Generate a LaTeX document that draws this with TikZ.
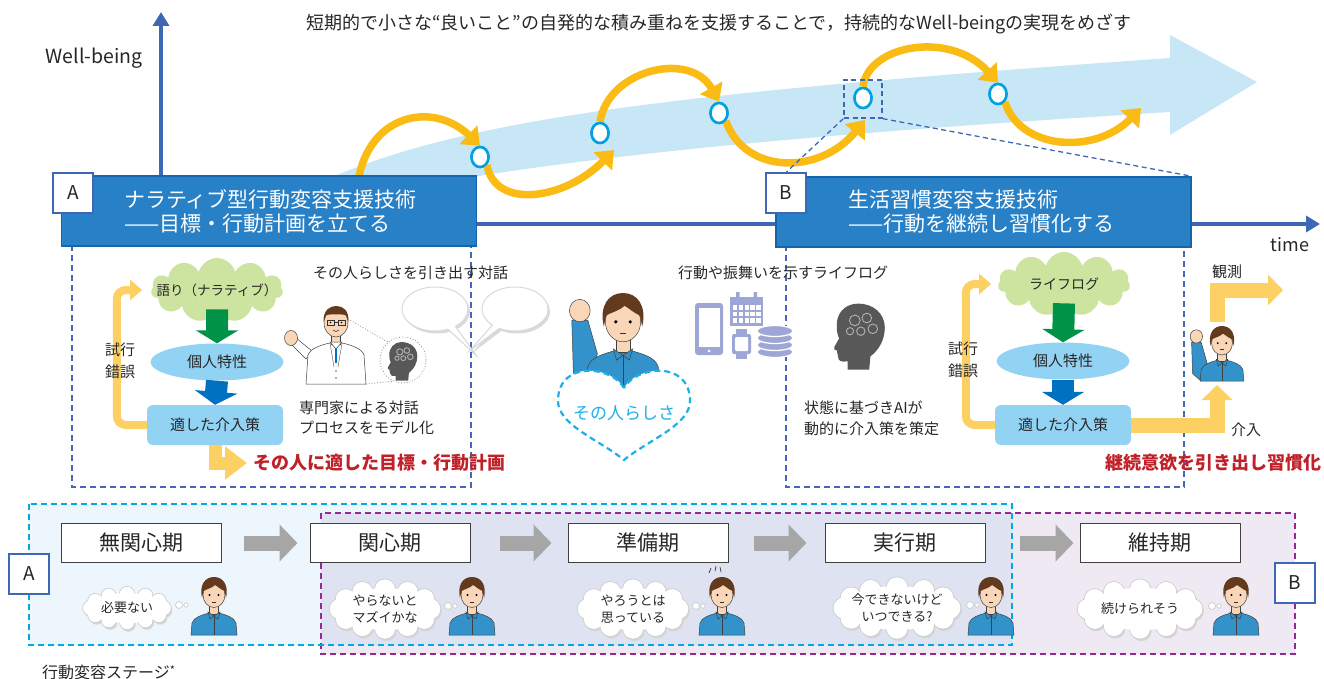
\documentclass[tikz,border=0pt]{standalone}
\usepackage{fontspec}
\setmainfont{Noto Sans CJK JP}
\usepackage{xcolor}
\usepackage{tikz}
\usetikzlibrary{arrows.meta,calc,positioning,shapes.geometric,shapes.symbols,shapes.callouts,shadows}

\definecolor{axisblue}{RGB}{63,104,180}
\definecolor{headblue}{RGB}{40,128,198}
\definecolor{headline}{RGB}{22,100,170}
\definecolor{bandblue}{RGB}{199,231,247}
\definecolor{ringblue}{RGB}{0,160,225}
\definecolor{arcgold}{RGB}{250,188,20}
\definecolor{loopgold}{RGB}{253,208,100}
\definecolor{cloudgreen}{RGB}{205,227,160}
\definecolor{downgreen}{RGB}{0,146,70}
\definecolor{paleblue}{RGB}{146,210,242}
\definecolor{downblue}{RGB}{0,112,192}
\definecolor{goalred}{RGB}{192,32,40}
\definecolor{heartcyan}{RGB}{26,176,232}
\definecolor{devicelav}{RGB}{158,166,214}
\definecolor{mindgrey}{RGB}{88,88,88}
\definecolor{panelblue}{RGB}{68,102,187}
\definecolor{stagecyan}{RGB}{0,170,228}
\definecolor{stagepurple}{RGB}{150,40,150}
\definecolor{bgA}{RGB}{237,246,252}
\definecolor{bgB}{RGB}{239,233,243}
\definecolor{bgAB}{RGB}{223,227,241}
\definecolor{stagegrey}{RGB}{166,166,166}
\definecolor{shirtblue}{RGB}{52,146,202}
\definecolor{skin}{RGB}{250,214,185}
\definecolor{hairbrown}{RGB}{100,58,30}

% bust of the young man, origin at the top of his hair
\newcommand{\drawguy}{%
  \path[fill=shirtblue, draw=black!75, line width=0.5pt]
    (-23,58) -- (-22,46) .. controls (-20,40) and (-12,38) .. (-5,36)
    -- (5,36) .. controls (12,38) and (20,40) .. (22,46) -- (23,58) -- cycle;
  \path[fill=skin, draw=black!75, line width=0.5pt] (-4.5,28) rectangle (4.5,37);
  \path[fill=shirtblue, draw=black!75, line width=0.5pt]
    (-6,35) -- (0,39) -- (-4,42) -- cycle (6,35) -- (0,39) -- (4,42) -- cycle;
  \draw[black!75, line width=0.5pt] (0,39) -- (0,58);
  \path[fill=skin, draw=black!75, line width=0.5pt] (0,18) ellipse [x radius=11, y radius=12.5];
  \path[fill=hairbrown] (-12,21) .. controls (-15,8) and (-9,0) .. (0,0)
    .. controls (9,0) and (15,8) .. (12,21) -- (10.5,14) .. controls (6,12) and (3,9) .. (1,8)
    .. controls (-2,11) and (-7,12) .. (-10.5,14) -- cycle;
  \fill[black] (-4.5,18) circle [radius=1.1] (4.5,18) circle [radius=1.1];
  \draw[black!80, line width=0.6pt] (-2,25) -- (2,25);
}

% thought cloud: centre x, centre y, half width, half height
\newcommand{\thinkcloud}[4]{%
  \pgfmathsetmacro\puffr{0.36*#4}%
  \pgfmathsetmacro\puffa{0.78*#3}%
  \pgfmathsetmacro\puffb{0.70*#4}%
  \foreach \a in {0,30,...,330}
    \fill[black!16] ({#1+1.5+\puffa*cos(\a)},{#2+2.5+\puffb*sin(\a)}) circle [radius=\puffr];
  \foreach \a in {0,30,...,330}
    \fill[black!20] ({#1+\puffa*cos(\a)},{#2+\puffb*sin(\a)}) circle [radius=\puffr+0.8];
  \foreach \a in {0,30,...,330}
    \fill[white] ({#1+\puffa*cos(\a)},{#2+\puffb*sin(\a)}) circle [radius=\puffr];
  \fill[white] (#1,#2) ellipse [x radius=0.8*#3, y radius=0.75*#4];
  \filldraw[fill=white, draw=black!20, line width=0.7pt]
    ({#1+#3+5},{#2-3}) circle [radius=3.5] ({#1+#3+12},{#2-3}) circle [radius=2.2];
}

\tikzset{
  note/.style={inner sep=0pt, text=black!85, font=\fontsize{15}{21}\selectfont},
  goal/.style={inner sep=0pt, text=goalred, font=\bfseries\fontsize{18}{20}\selectfont},
  wbaxis/.style={draw=axisblue, line width=3.5pt, -{Triangle[length=14pt,width=16pt]}},
  hdr/.style={draw=headline, line width=1.5pt, fill=headblue, minimum width=415pt, minimum height=70pt},
  hdrtext/.style={inner sep=0pt, text=white, align=left, font=\fontsize{21}{24}\selectfont},
  tagbox/.style={draw=axisblue, line width=1.2pt, fill=white, minimum size=40pt, inner sep=0pt, text=black!85, font=\fontsize{19}{19}\selectfont},
  panel/.style={draw=panelblue, line width=1.3pt, dash pattern=on 6pt off 4pt},
  zoomline/.style={draw=axisblue, line width=1.3pt, dash pattern=on 5pt off 3.5pt},
  ring/.style={ellipse, draw=ringblue, line width=2.5pt, fill=white, minimum width=17pt, minimum height=20pt, inner sep=0pt},
  hop/.style={draw=arcgold, line width=7.5pt, -{Triangle[length=16pt,width=25pt]}},
  narr/.style={cloud, cloud puffs=11, cloud ignores aspect, fill=cloudgreen, minimum width=132pt, minimum height=64pt, inner sep=0pt},
  trait/.style={ellipse, fill=paleblue, minimum width=133pt, minimum height=37pt, inner sep=0pt, text=black!85, font=\fontsize{15}{18}\selectfont},
  policy/.style={rectangle, rounded corners=6pt, fill=paleblue, minimum width=136pt, minimum height=40pt, inner sep=0pt, text=black!85, font=\fontsize{15}{18}\selectfont},
  downhop/.style={line width=22pt, -{Triangle[length=13pt,width=42pt]}},
  loopback/.style={draw=loopgold, line width=8pt, rounded corners=9pt, -{Triangle[length=12pt,width=20pt]}},
  goalarrow/.style={draw=loopgold, line width=13pt, -{Triangle[length=22pt,width=32pt]}},
  actarrow/.style={draw=loopgold, line width=15pt, -{Triangle[length=15pt,width=30pt]}},
  bubble/.style={ellipse callout, fill=white, draw=black!15, line width=1pt, minimum width=66pt, minimum height=44pt, drop shadow={opacity=0.3, shadow xshift=2pt, shadow yshift=-2.5pt}},
  stagebox/.style={draw=black!75, line width=1pt, fill=white, minimum width=160pt, minimum height=39pt, inner sep=0pt, text=black!85, font=\fontsize{21}{21}\selectfont},
  stagearrow/.style={draw=stagegrey, line width=15pt, -{Triangle[length=18pt,width=36pt]}},
  thinktext/.style={inner sep=0pt, align=center, text=black!85, font=\fontsize{13}{17}\selectfont},
  pics/guy/.style={code={\drawguy}},
  % same man with a raised fist
  pics/cheer/.style={code={
    \path[fill=shirtblue, draw=black!75, line width=0.5pt]
      (-32,17) -- (-31,50) -- (-22,58) -- (-16,38) -- (-22,17) -- cycle;
    \path[fill=skin, draw=black!75, line width=0.5pt] (-27,11) ellipse [x radius=6.5, y radius=7];
    \drawguy
  }},
  % doctor in a white coat
  pics/doctor/.style={code={
    \path[fill=white, draw=black!75, line width=0.5pt] (-30,52) -- (-46,36) -- (-40,31) -- (-24,44) -- cycle;
    \path[fill=skin, draw=black!75, line width=0.5pt] (-45,31) ellipse [x radius=6.5, y radius=7.5];
    \path[fill=white, draw=black!75, line width=0.5pt]
      (-30,77) -- (-28,48) .. controls (-26,42) and (-16,38) .. (-6,36)
      -- (6,36) .. controls (16,38) and (26,42) .. (28,48) -- (30,77) -- cycle;
    \path[fill=skin, draw=black!75, line width=0.5pt] (-4.5,27) rectangle (4.5,37);
    \path[fill=white, draw=black!75, line width=0.5pt] (-6,35) -- (0,42) -- (6,35) -- cycle;
    \draw[downblue, line width=2.5pt] (0,41) -- (0,56);
    \draw[black!60, line width=0.5pt] (-6,36) -- (-2,60) (6,36) -- (2,60);
    \fill[black!60] (0,64) circle [radius=0.9] (0,71) circle [radius=0.9];
    \path[fill=skin, draw=black!75, line width=0.5pt] (0,16) ellipse [x radius=12, y radius=14];
    \path[fill=hairbrown] (-12.5,15) .. controls (-13,3) and (-6,-1) .. (0,-1)
      .. controls (7,-1) and (13,3) .. (12.5,15) -- (10,8) .. controls (4,7) and (-4,7) .. (-10,8) -- cycle;
    \draw[black!80, line width=0.6pt] (-9,13) rectangle (-2,18) (2,13) rectangle (9,18) (-2,15) -- (2,15);
    \fill[black] (-5.5,15.5) circle [radius=0.9] (5.5,15.5) circle [radius=0.9];
    \draw[black!80, line width=0.6pt] (-3,23) .. controls (-1,25) and (1,25) .. (3,23);
    \coordinate (-ear) at (12,12);
    \coordinate (-hem) at (30,77);
  }},
  % thinking head in profile, facing left
  pics/mind/.style={code={
    \fill[mindgrey] (6,28) -- (7,17) .. controls (15,11) and (19,2) .. (19,-7)
      .. controls (19,-19) and (9,-27) .. (-3,-27)
      .. controls (-15,-27) and (-22,-18) .. (-21,-7)
      .. controls (-21,-3) and (-20,0) .. (-19,2) -- (-23,9)
      .. controls (-24,11) and (-23,12) .. (-21,12) -- (-20,17)
      .. controls (-20,21) and (-17,22) .. (-12,21) -- (-12,28) -- cycle;
    \foreach \gx/\gy/\gr in {-6/-13/4.5, 4/-15/4, 9/-6/4, -1/-4/3.5, -10/-4/3}
      \draw[black!30, line width=0.9pt] (\gx,\gy) circle [radius=\gr];
  }}
}

\begin{document}
\begin{tikzpicture}[x=1pt, y=-1pt]
  \useasboundingbox (0,0) rectangle (1324,679);

  % rising well-being band
  \fill[bandblue] (285,200) .. controls (430,120) and (650,95) .. (1170,58)
    -- (1170,35) -- (1257,82) -- (1170,135) -- (1170,112)
    .. controls (800,135) and (500,160) .. (300,212) -- cycle;

  % axes
  \coordinate (origin) at (161,224);
  \coordinate (wbTop) at (161,12);
  \coordinate (timeEnd) at (1320,224);
  \draw[wbaxis] (origin) -- (wbTop);
  \draw[wbaxis] (origin) -- (timeEnd);
  \node[note, font=\fontsize{19.5}{20}\selectfont] (wbLabel) at (94,58) {Well-being};
  \node[note, font=\fontsize{18}{20}\selectfont] (timeLabel) at (1290,245) {time};
  \node[note, font=\fontsize{18}{20}\selectfont] (motto) at (719,24)
    {短期的で小さな“良いこと”の自発的な積み重ねを支援することで，持続的なWell-beingの実現をめざす};

  % small good steps
  \node[ring] (c1) at (480,157) {};
  \node[ring] (c2) at (600,133) {};
  \node[ring] (c3) at (719,113) {};
  \node[ring] (c4) at (863,98) {};
  \node[ring] (c5) at (998,94) {};
  \coordinate (hop0) at (358,182);
  \coordinate (hop2) at ([xshift=14pt,yshift=-17pt]c2.center);
  \coordinate (hop4) at ([xshift=2pt,yshift=-22pt]c4.center);
  \coordinate (hop6) at (1141,108);
  \draw[hop] (hop0) .. controls (368,115) and (432,100) .. (c1.north);
  \draw[hop] (c1.south east) .. controls (495,210) and (565,200) .. (hop2);
  \draw[hop] (c2.north) .. controls (608,70) and (690,50) .. (c3.north);
  \draw[hop] (c3.south east) .. controls (745,175) and (820,175) .. (hop4);
  \draw[hop] (c4.north) .. controls (868,45) and (950,30) .. (c5.north);
  \draw[hop] (c5.south east) .. controls (1020,150) and (1095,155) .. (hop6);
  \foreach \c/\x/\y in {c1/480/157, c2/600/133, c3/719/113, c4/863/98, c5/998/94}
    \node[ring] at (\x,\y) {};

  % panels under the two headers
  \draw[panel] (72,245) rectangle (471,487);
  \draw[panel] (786,245) rectangle (1184,487);

  % close-up on one step
  \node[zoomline, minimum size=38pt] (zsq) at (863,99) {};

  % header A
  \node[hdr] (hdA) at (269,211) {};
  \node[tagbox] (tagA) at (73,193) {A};
  \node[hdrtext, anchor=west] (ttlA) at (124,211) {ナラティブ型行動変容支援技術\\——目標・行動計画を立てる};
  % header B
  \node[hdr] (hdB) at (983.5,212) {};
  \node[tagbox] (tagB) at (786,193) {B};
  \node[hdrtext, anchor=west] (ttlB) at (848,212) {生活習慣変容支援技術\\——行動を継続し習慣化する};
  \draw[zoomline] (zsq.south west) -- (tagB.north);
  \draw[zoomline] (zsq.south east) -- (hdB.north east);

  % --- panel A: dialogue with an expert
  \node[narr] (narrA) at (217,290) {};
  \node[note, font=\fontsize{13.5}{16}\selectfont] (narrAt) at (narrA) {語り（ナラティブ）};
  \node[trait] (traitA) at (217,362) {個人特性};
  \node[policy] (polA) at (215,425) {適した介入策};
  \draw[downhop, downgreen] (narrA.south) -- (traitA.north);
  \draw[downhop, downblue] (traitA.south) -- (polA.north);
  \draw[loopback, shorten >=9pt] (polA.west) -- ++(-30,0) |- (narrA.west);
  \node[note, align=center, font=\fontsize{15}{22}\selectfont] (trialA) at (120,361) {試行\\錯誤};
  \node[goal, anchor=west] (goalA) at (253,463) {その人に適した目標・行動計画};
  \draw[goalarrow, shorten >=6pt] (polA.south) |- (goalA.west);

  \node[note, anchor=west] (talk) at (313,273) {その人らしさを引き出す対話};
  \node[bubble, callout relative pointer={(24,27)}] (bub1) at (435,309) {};
  \node[bubble, callout relative pointer={(-26,24)}] (bub2) at (515,309) {};
  \pic (doc) at (336,307) {doctor};
  \node[circle, draw=black!45, dotted, line width=0.8pt, minimum size=46pt] (mindA) at (403,360) {};
  \draw[black!45, dotted, line width=0.8pt] (doc-ear) -- (mindA.130);
  \draw[black!45, dotted, line width=0.8pt] (doc-hem) -- (mindA.245);
  \pic[scale=0.7] at (404,361) {mind};
  \node[note, anchor=west, align=left, font=\fontsize{15}{20}\selectfont] (expert) at (299,418) {専門家による対話\\プロセスをモデル化};

  % --- centre: the person and what makes them who they are
  \pic[scale=1.6] (mid) at (623,293) {cheer};
  \path[fill=white, draw=heartcyan, line width=2.2pt, dash pattern=on 6pt off 4pt]
    (624,388) .. controls (612,366) and (559,360) .. (558,400)
    .. controls (557,425) and (600,440) .. (624,460)
    .. controls (648,440) and (691,425) .. (690,400)
    .. controls (689,360) and (636,366) .. (624,388) -- cycle;
  \node[inner sep=0pt, text=heartcyan, font=\fontsize{17}{20}\selectfont] (self) at (624,413) {その人らしさ};

  \node[note, anchor=west] (logLabel) at (678,273) {行動や振舞いを示すライフログ};
  % tablet
  \fill[devicelav, rounded corners=3pt] (695,303) rectangle (723,355);
  \fill[white] (698.5,308) rectangle (719.5,347);
  \fill[white] (709,351) circle [radius=1.5];
  % calendar
  \fill[devicelav] (730,297) rectangle (763,326);
  \fill[devicelav] (736,292) rectangle (739.5,300) (753.5,292) rectangle (757,300);
  \foreach \r in {0,1,2}
    \foreach \k in {0,...,4}
      \fill[white] (733+5.8*\k,305+6.5*\r) rectangle ++(4.3,4.5);
  % watch
  \fill[devicelav] (736,329) rectangle (747,359);
  \fill[devicelav, rounded corners=2pt] (732,334) rectangle (751,354);
  \fill[white, rounded corners=1pt] (735,337) rectangle (748,351);
  % data store
  \foreach \dy in {352,345,338,331}
    \filldraw[fill=devicelav, draw=white, line width=1.3pt] (775,\dy) ellipse [x radius=18, y radius=5.5];

  % --- panel B: lifelog driven AI
  \pic[scale=1.2] at (862,336) {mind};
  \node[note, anchor=west, align=left, font=\fontsize{15}{21}\selectfont] (aiNote) at (804,418) {状態に基づきAIが\\動的に介入策を策定};
  \node[narr] (narrB) at (1064,284) {};
  \node[note, font=\fontsize{14}{16}\selectfont] (narrBt) at (narrB) {ライフログ};
  \node[trait] (traitB) at (1063,361) {個人特性};
  \node[policy] (polB) at (1063,425) {適した介入策};
  \draw[downhop, downgreen] (narrB.south) -- (traitB.north);
  \draw[downhop, downblue] (traitB.south) -- (polB.north);
  \draw[loopback, shorten >=7pt] (polB.west) -- ++(-29,0) |- (narrB.west);
  \node[note, align=center, font=\fontsize{15}{22}\selectfont] (trialB) at (963,360) {試行\\錯誤};

  \pic[scale=0.95] (user) at (1222,326) {cheer};
  \coordinate (kaiTip) at (1217,385);
  \coordinate (obsFoot) at (1217,322);
  \coordinate (obsTip) at (1283,290);
  \draw[actarrow] (polB.east) -| (kaiTip);
  \draw[actarrow] (obsFoot) |- (obsTip);
  \node[note, anchor=west] (kaiLabel) at (1231,430) {介入};
  \node[note] (obsLabel) at (1227,272) {観測};
  \node[goal, anchor=east] (goalB) at (1322,463) {継続意欲を引き出し習慣化};

  % --- stages of change
  \fill[bgA] (29,504) rectangle (1012,645);
  \fill[bgB] (321,513) rectangle (1295,654);
  \fill[bgAB] (321,513) rectangle (1012,645);
  \draw[draw=stagepurple, line width=1.6pt, dash pattern=on 6pt off 4pt] (321,513) rectangle (1295,654);
  \draw[draw=stagecyan, line width=1.6pt, dash pattern=on 6pt off 4pt] (29,504) rectangle (1012,645);
  \node[tagbox] (tagA2) at (29,574) {A};
  \node[tagbox] (tagB2) at (1295,583) {B};

  \foreach \n/\x/\t in {1/141/無関心期, 2/390/関心期, 3/648/準備期, 4/905/実行期, 5/1160/維持期}
    \node[stagebox] (s\n) at (\x,543) {\t};
  \foreach \a/\b/\p/\q in {s1/s2/22/12, s2/s3/29/16, s3/s4/25/18, s4/s5/34/6}
    \draw[stagearrow, shorten <=\p pt, shorten >=\q pt] (\a.east) -- (\b.west);

  % what each stage is thinking
  \thinkcloud{127}{608}{47}{20}
  \thinkcloud{385}{609}{58}{28}
  \thinkcloud{633}{609}{58}{28}
  \thinkcloud{897}{608}{68}{29}
  \thinkcloud{1140}{609}{67}{28}
  \node[thinktext] (th1) at (127,608) {必要ない};
  \node[thinktext] (th2) at (385,609) {やらないと\\マズイかな};
  \node[thinktext] (th3) at (633,609) {やろうとは\\思っている};
  \node[thinktext] (th4) at (897,608) {今できないけど\\いつできる?};
  \node[thinktext] (th5) at (1140,609) {続けられそう};

  \foreach \px in {214,472,722,991,1236}
    \pic at (\px,577) {guy};
  \draw[black!80, line width=0.7pt] (709,573) -- (711,568) (715,571) -- (716,566) (721,572) -- (720,567);

  \node[note, anchor=west, font=\fontsize{16}{20}\selectfont] (stageCaption) at (42,672)
    {行動変容ステージ{\fontsize{11}{11}\selectfont\raisebox{4pt}{*}}};
\end{tikzpicture}
\end{document}
